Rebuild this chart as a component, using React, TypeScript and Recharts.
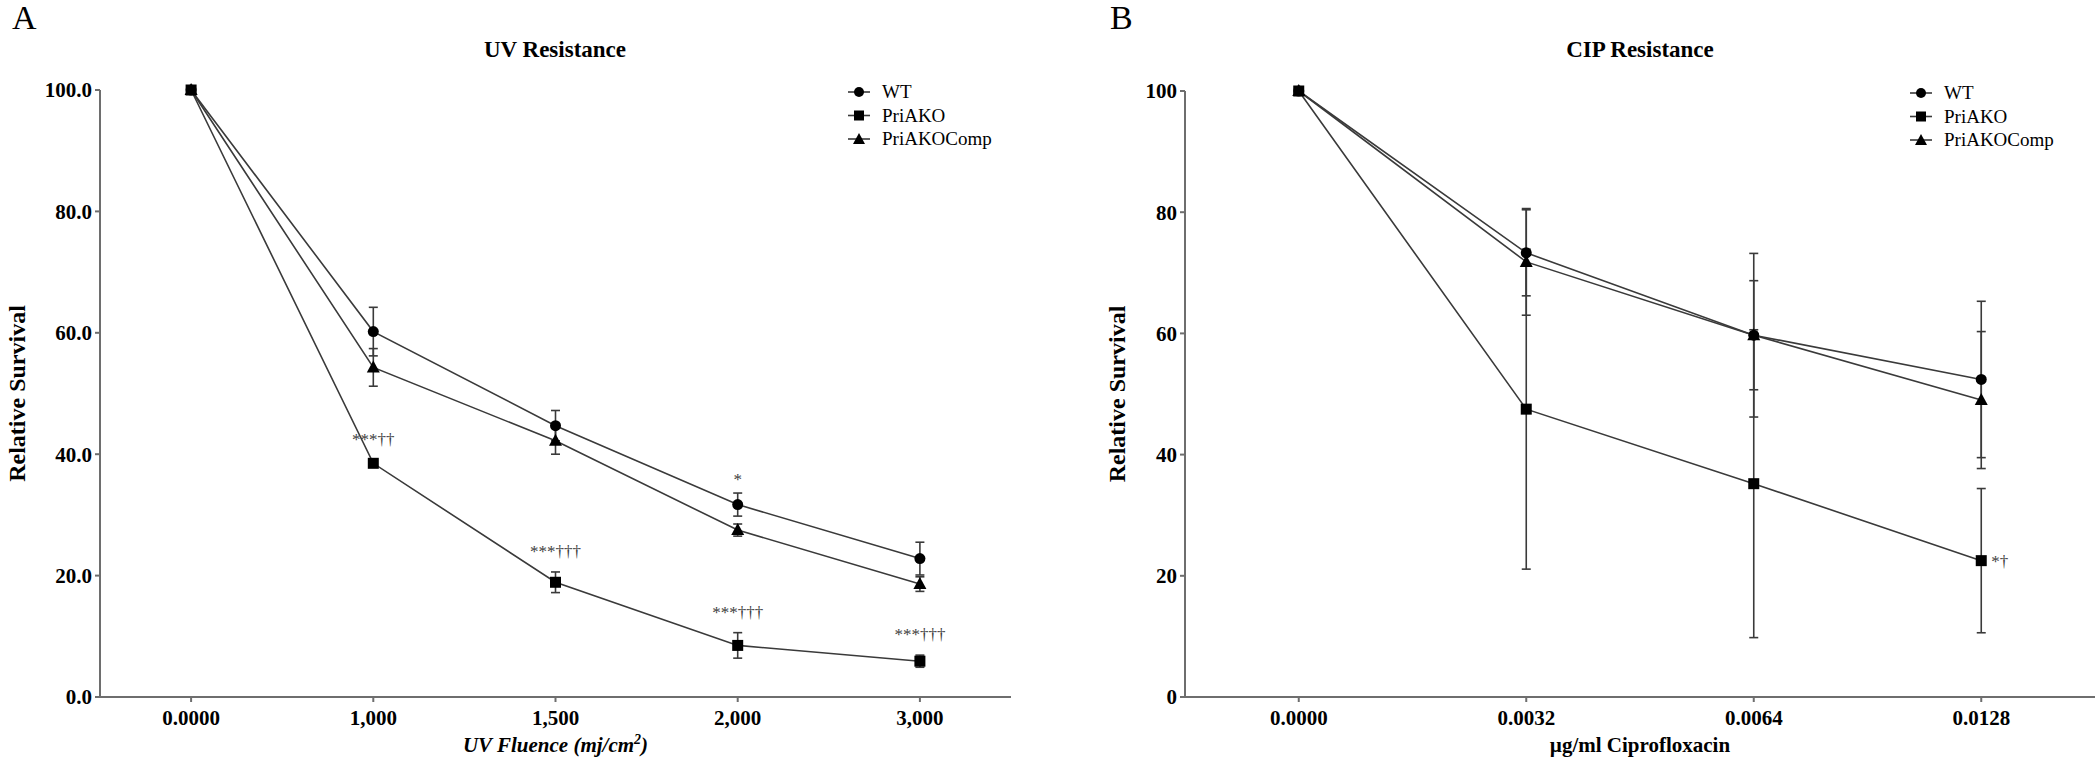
import { ErrorBar, Label, LabelList, Line, LineChart, XAxis, YAxis } from "recharts";

const FONT = "'Liberation Serif', 'Times New Roman', serif";
const INK = "#3a3a3a";
const AXIS = "#6e6e6e";

const seriesNames = ["WT", "PriAKO", "PriAKOComp"];
const survivalTicks = [0, 20, 40, 60, 80, 100];

// panel A: UV
const uvFluence = ["0.0000", "1,000", "1,500", "2,000", "3,000"];
const uvWT = [100, 60.2, 44.7, 31.7, 22.8];
const uvWTErr = [0, 4.0, 2.5, 1.9, 2.7];
const uvKO = [100, 38.5, 18.9, 8.5, 5.9];
const uvKOErr = [0, 0.6, 1.7, 2.1, 1.0];
const uvComp = [100, 54.3, 42.2, 27.5, 18.6];
const uvCompErr = [0, 3.1, 2.2, 1.0, 1.2];
const uvWTNotes = ["", "", "", "*", ""];
const uvKONotes = ["", "***††", "***†††", "***†††", "***†††"];

// panel B: ciprofloxacin
const cipDose = ["0.0000", "0.0032", "0.0064", "0.0128"];
const cipWT = [100, 73.3, 59.7, 52.4];
const cipWTErr = [0, 7.1, 13.5, 12.9];
const cipKO = [100, 47.5, 35.2, 22.5];
const cipKOErr = [0, 26.4, 25.4, 11.9];
const cipComp = [100, 71.8, 59.7, 49.0];
const cipCompErr = [0, 8.8, 9.0, 11.3];
const cipWTNotes = ["", "", "", ""];
const cipKONotes = ["", "", "", "*†"];

const uvRows = uvFluence.map((label, i) => ({
  i,
  label,
  wt: uvWT[i],
  wtErr: uvWTErr[i],
  wtTop: uvWT[i] + uvWTErr[i],
  wtNote: uvWTNotes[i],
  ko: uvKO[i],
  koErr: uvKOErr[i],
  koTop: uvKO[i] + uvKOErr[i],
  koNote: uvKONotes[i],
  comp: uvComp[i],
  compErr: uvCompErr[i],
}));

const cipRows = cipDose.map((label, i) => ({
  i,
  label,
  wt: cipWT[i],
  wtErr: cipWTErr[i],
  wtTop: cipWT[i] + cipWTErr[i],
  wtNote: cipWTNotes[i],
  ko: cipKO[i],
  koErr: cipKOErr[i],
  koTop: cipKO[i] + cipKOErr[i],
  koNote: cipKONotes[i],
  comp: cipComp[i],
  compErr: cipCompErr[i],
}));

const circleDot = (p: any) => (
  <circle key={`c${p.index}`} cx={p.cx} cy={p.cy} r={5.5} fill="#000" />
);
const squareDot = (p: any) => (
  <rect key={`s${p.index}`} x={p.cx - 5.5} y={p.cy - 5.5} width={11} height={11} fill="#000" />
);
const triangleDot = (p: any) => (
  <polygon
    key={`t${p.index}`}
    points={`${p.cx},${p.cy - 7} ${p.cx + 6.5},${p.cy + 5} ${p.cx - 6.5},${p.cy + 5}`}
    fill="#000"
  />
);

// significance marks, drawn above the top of the error bar
const noteAbove = (gap: number) => (p: any) => {
  if (!p.value) return null;
  const x = p.x ?? p.viewBox?.x;
  const y = p.y ?? p.viewBox?.y;
  return (
    <text x={x} y={y - gap} textAnchor="middle" fontFamily={FONT} fontSize={17} fill="#404040">
      {p.value}
    </text>
  );
};

const noteRight = (p: any) => {
  if (!p.value) return null;
  const x = p.x ?? p.viewBox?.x;
  const y = p.y ?? p.viewBox?.y;
  return (
    <text x={x + 10} y={y + 6} fontFamily={FONT} fontSize={17} fill="#404040">
      {p.value}
    </text>
  );
};

const yTitle = (x: number) => (p: any) => {
  const vb = p.viewBox ?? { y: 90, height: 607 };
  const cy = vb.y + vb.height / 2;
  return (
    <text
      x={x}
      y={cy}
      transform={`rotate(-90, ${x}, ${cy})`}
      textAnchor="middle"
      fontFamily={FONT}
      fontWeight="bold"
      fontSize={24}
      fill="#000"
    >
      Relative Survival
    </text>
  );
};

const uvXTitle = (p: any) => {
  const vb = p.viewBox ?? { x: 100, width: 911 };
  return (
    <text
      x={vb.x + vb.width / 2}
      y={752}
      textAnchor="middle"
      fontFamily={FONT}
      fontWeight="bold"
      fontStyle="italic"
      fontSize={21}
      fill="#000"
    >
      <tspan>UV Fluence (mj/cm</tspan>
      <tspan dy={-8} fontSize={14}>2</tspan>
      <tspan dy={8}>)</tspan>
    </text>
  );
};

const cipXTitle = (p: any) => {
  const vb = p.viewBox ?? { x: 135, width: 910 };
  return (
    <text
      x={vb.x + vb.width / 2}
      y={752}
      textAnchor="middle"
      fontFamily={FONT}
      fontWeight="bold"
      fontSize={21}
      fill="#000"
    >
      µg/ml Ciprofloxacin
    </text>
  );
};

const tickStyle = { fontFamily: FONT, fontWeight: "bold", fontSize: 21, fill: "#000" };

type PanelProps = {
  rows: any[];
  cats: string[];
  margin: { top: number; right: number; bottom: number; left: number };
  yFormat: (v: number) => string;
  yTitleX: number;
  xTitle: (p: any) => any;
  wtGap: number;
  koNote: "above" | "right";
};

function Panel({ rows, cats, margin, yFormat, yTitleX, xTitle, wtGap, koNote }: PanelProps) {
  return (
    <LineChart width={1050} height={765} data={rows} margin={margin}>
      <XAxis
        dataKey="i"
        type="number"
        domain={[-0.5, cats.length - 0.5]}
        ticks={cats.map((_, i) => i)}
        tickFormatter={(v) => cats[v]}
        allowDataOverflow
        height={40}
        stroke={AXIS}
        strokeWidth={2}
        tickSize={5}
        tickMargin={8}
        tick={tickStyle}
      >
        <Label content={xTitle} />
      </XAxis>
      <YAxis
        type="number"
        domain={[0, 100]}
        ticks={survivalTicks}
        tickFormatter={yFormat}
        width={60}
        stroke={AXIS}
        strokeWidth={2}
        tickSize={5}
        tickMargin={3}
        tick={tickStyle}
      >
        <Label content={yTitle(yTitleX)} />
      </YAxis>
      <Line
        dataKey="wtTop"
        stroke="none"
        dot={false}
        activeDot={false}
        legendType="none"
        isAnimationActive={false}
      >
        <LabelList dataKey="wtNote" content={noteAbove(wtGap)} />
      </Line>
      {koNote === "above" && (
        <Line
          dataKey="koTop"
          stroke="none"
          dot={false}
          activeDot={false}
          legendType="none"
          isAnimationActive={false}
        >
          <LabelList dataKey="koNote" content={noteAbove(15)} />
        </Line>
      )}
      <Line
        dataKey="wt"
        name={seriesNames[0]}
        stroke={INK}
        strokeWidth={1.6}
        dot={circleDot}
        activeDot={false}
        isAnimationActive={false}
      >
        <ErrorBar dataKey="wtErr" width={4.5} stroke={INK} strokeWidth={1.6} direction="y" />
      </Line>
      <Line
        dataKey="comp"
        name={seriesNames[2]}
        stroke={INK}
        strokeWidth={1.6}
        dot={triangleDot}
        activeDot={false}
        isAnimationActive={false}
      >
        <ErrorBar dataKey="compErr" width={4.5} stroke={INK} strokeWidth={1.6} direction="y" />
      </Line>
      <Line
        dataKey="ko"
        name={seriesNames[1]}
        stroke={INK}
        strokeWidth={1.6}
        dot={squareDot}
        activeDot={false}
        isAnimationActive={false}
      >
        <ErrorBar dataKey="koErr" width={4.5} stroke={INK} strokeWidth={1.6} direction="y" />
        {koNote === "right" && <LabelList dataKey="koNote" content={noteRight} />}
      </Line>
    </LineChart>
  );
}

function LegendBlock({ x, y }: { x: number; y: number }) {
  const marks = [
    <circle cx={x} cy={0} r={5} fill="#000" />,
    <rect x={x - 5} y={-5} width={10} height={10} fill="#000" />,
    <polygon points={`${x},-6 ${x + 6},5 ${x - 6},5`} fill="#000" />,
  ];
  return (
    <g>
      {seriesNames.map((name, k) => (
        <g key={name} transform={`translate(0, ${y + k * 23.5})`}>
          <line x1={x - 11} x2={x + 11} y1={0} y2={0} stroke={INK} strokeWidth={1.6} />
          {marks[k]}
          <text x={x + 23} y={6} fontFamily={FONT} fontSize={19} fill="#000">
            {name}
          </text>
        </g>
      ))}
    </g>
  );
}

export default function App() {
  return (
    <div style={{ position: "absolute", left: 0, top: 0, width: 2100, height: 765, background: "#fff" }}>
      <div style={{ position: "absolute", left: 0, top: 0 }}>
        <Panel
          rows={uvRows}
          cats={uvFluence}
          margin={{ top: 90, right: 39, bottom: 28, left: 40 }}
          yFormat={(v) => v.toFixed(1)}
          yTitleX={25}
          xTitle={uvXTitle}
          wtGap={8}
          koNote="above"
        />
      </div>
      <div style={{ position: "absolute", left: 1050, top: 0 }}>
        <Panel
          rows={cipRows}
          cats={cipDose}
          margin={{ top: 91, right: 5, bottom: 28, left: 75 }}
          yFormat={(v) => String(v)}
          yTitleX={75}
          xTitle={cipXTitle}
          wtGap={8}
          koNote="right"
        />
      </div>
      <svg
        width={2100}
        height={765}
        style={{ position: "absolute", left: 0, top: 0, pointerEvents: "none" }}
      >
        <text x={12} y={29} fontFamily={FONT} fontSize={34} fill="#000">A</text>
        <text x={1110} y={29} fontFamily={FONT} fontSize={34} fill="#000">B</text>
        <text x={555} y={57} textAnchor="middle" fontFamily={FONT} fontWeight="bold" fontSize={23} fill="#000">
          UV Resistance
        </text>
        <text x={1640} y={57} textAnchor="middle" fontFamily={FONT} fontWeight="bold" fontSize={23} fill="#000">
          CIP Resistance
        </text>
        <LegendBlock x={859} y={92} />
        <LegendBlock x={1921} y={93} />
      </svg>
    </div>
  );
}
